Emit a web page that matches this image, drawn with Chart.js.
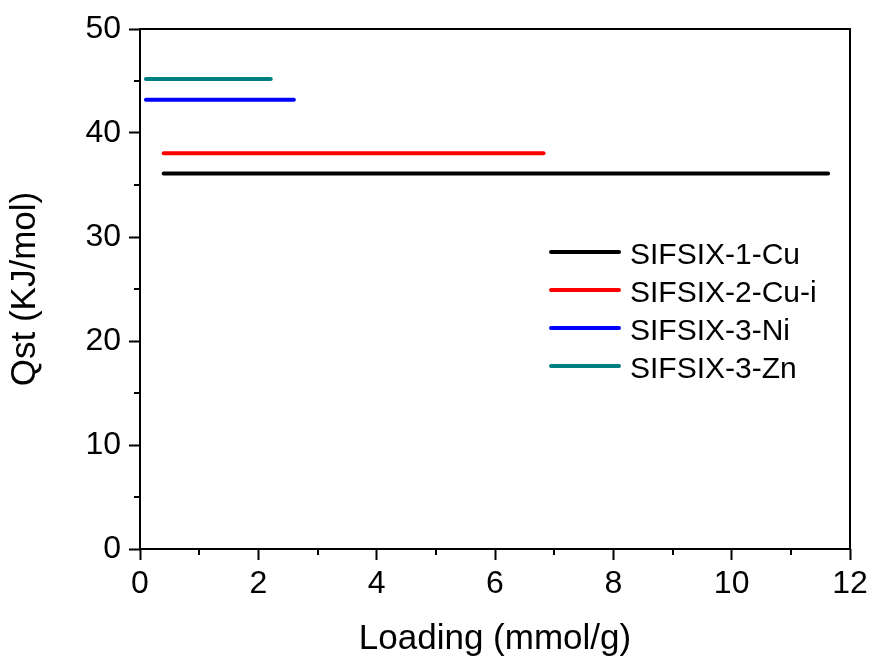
<!DOCTYPE html>
<html>
<head>
<meta charset="utf-8">
<script src="https://cdn.jsdelivr.net/npm/chart.js@4.4.1/dist/chart.umd.min.js"></script>
<style>
  html, body { margin: 0; padding: 0; background: #fff; }
  #wrap { width: 874px; height: 664px; }
</style>
</head>
<body>
<div id="wrap"><canvas id="qstChart" width="874" height="664"></canvas></div>
<script>
// Qst vs loading
const seriesNames = ["SIFSIX-1-Cu", "SIFSIX-2-Cu-i", "SIFSIX-3-Ni", "SIFSIX-3-Zn"];
const loadingStart = [0.4, 0.4, 0.1, 0.1];
const loadingEnd = [11.63, 6.82, 2.6, 2.21];
const qstValues = [36.1, 38.05, 43.2, 45.2];
const xTickValues = [0, 2, 4, 6, 8, 10, 12];
const xMinorValues = [1, 3, 5, 7, 9, 11];
const yTickValues = [0, 10, 20, 30, 40, 50];
const yMinorValues = [5, 15, 25, 35, 45];

const lineColors = ["#000000", "#ff0000", "#0000ff", "#008080"];
const FONT = "'Liberation Sans', Arial, sans-serif";

const datasets = seriesNames.map((name, i) => ({
  label: name,
  data: [
    { x: loadingStart[i], y: qstValues[i] },
    { x: loadingEnd[i], y: qstValues[i] }
  ],
  borderColor: lineColors[i],
  backgroundColor: lineColors[i],
  borderWidth: 4,
  borderCapStyle: "round",
  pointRadius: 0,
  fill: false
}));

// frame + minor ticks
const framePlugin = {
  id: "frame",
  afterDraw(chart) {
    const ctx = chart.ctx;
    const a = chart.chartArea;
    const xs = chart.scales.x;
    const ys = chart.scales.y;
    ctx.save();
    ctx.strokeStyle = "#000";
    ctx.lineWidth = 2;
    ctx.strokeRect(a.left, a.top, a.right - a.left, a.bottom - a.top);
    ctx.beginPath();
    xMinorValues.forEach(v => {
      const px = Math.round(xs.getPixelForValue(v));
      ctx.moveTo(px, a.bottom);
      ctx.lineTo(px, a.bottom + 6);
    });
    yMinorValues.forEach(v => {
      const py = Math.round(ys.getPixelForValue(v));
      ctx.moveTo(a.left, py);
      ctx.lineTo(a.left - 6, py);
    });
    ctx.stroke();
    ctx.restore();
  }
};

// legend inside the plot
const legendPlugin = {
  id: "insideLegend",
  afterDraw(chart) {
    const ctx = chart.ctx;
    ctx.save();
    ctx.font = "30px " + FONT;
    ctx.fillStyle = "#000";
    ctx.textBaseline = "alphabetic";
    ctx.textAlign = "left";
    chart.data.datasets.forEach((ds, i) => {
      const y = 252 + i * 38;
      ctx.strokeStyle = ds.borderColor;
      ctx.lineWidth = 4;
      ctx.lineCap = "round";
      ctx.beginPath();
      ctx.moveTo(551, y);
      ctx.lineTo(619, y);
      ctx.stroke();
      ctx.fillText(ds.label, 630, y + 12);
    });
    ctx.restore();
  }
};

new Chart(document.getElementById("qstChart"), {
  type: "line",
  data: { datasets: datasets },
  options: {
    responsive: false,
    animation: false,
    layout: { padding: { top: 29, right: 24, left: 0, bottom: 0 } },
    plugins: {
      legend: { display: false },
      tooltip: { enabled: false }
    },
    scales: {
      x: {
        type: "linear",
        min: 0,
        max: 12,
        afterBuildTicks: scale => {
          scale.ticks = xTickValues.map(v => ({ value: v }));
        },
        afterFit: scale => { scale.height = 115; },
        border: { display: false },
        grid: {
          drawOnChartArea: false,
          tickLength: 11,
          tickColor: "#000",
          tickWidth: 2
        },
        ticks: {
          color: "#000",
          font: { family: FONT, size: 32 },
          padding: 5,
          maxRotation: 0
        },
        title: {
          display: true,
          text: "Loading (mmol/g)",
          color: "#000",
          font: { family: FONT, size: 35 },
          padding: { top: 8 }
        }
      },
      y: {
        type: "linear",
        min: 0,
        max: 50,
        afterBuildTicks: scale => {
          scale.ticks = yTickValues.map(v => ({ value: v }));
        },
        afterFit: scale => { scale.width = 140; },
        border: { display: false },
        grid: {
          drawOnChartArea: false,
          tickLength: 11,
          tickColor: "#000",
          tickWidth: 2
        },
        ticks: {
          color: "#000",
          font: { family: FONT, size: 32 },
          padding: 8
        },
        title: {
          display: true,
          text: "Qst (KJ/mol)",
          color: "#000",
          font: { family: FONT, size: 35 },
          padding: { top: 4, bottom: 4 }
        }
      }
    }
  },
  plugins: [framePlugin, legendPlugin]
});
</script>
</body>
</html>
